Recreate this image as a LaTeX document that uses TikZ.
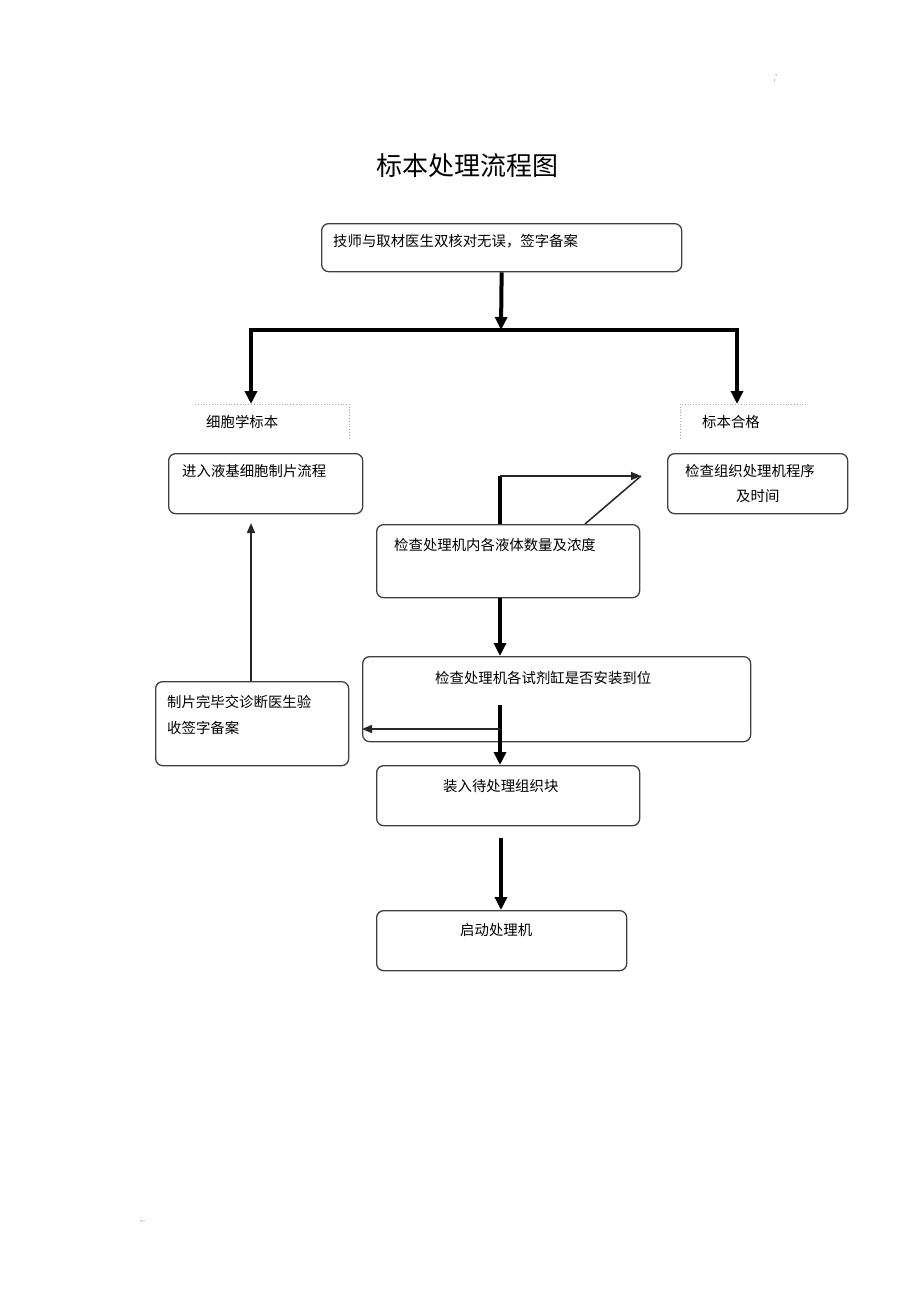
\documentclass[tikz,border=0pt]{standalone}
\usepackage{fontspec}
\setmainfont{Noto Sans CJK SC}
\usetikzlibrary{arrows.meta}
\begin{document}
\begin{tikzpicture}[x=1pt,y=-1pt,
 box/.style={draw=black!75, line width=1.3pt, rounded corners=7pt, anchor=north west, inner sep=0},
 txt/.style={anchor=west, inner sep=0, font=\fontsize{14.4pt}{18pt}\selectfont},
 heavy/.style={line width=4pt, -{Triangle[length=13pt,width=12pt]}},
 heavyline/.style={line width=4pt},
 thinarrow/.style={line width=1.5pt, black!85, -{Triangle[length=10pt,width=8pt]}},
 thinline/.style={line width=1.5pt, black!85},
 dotline/.style={black!35, dotted, line width=0.8pt}]
\useasboundingbox (0,0) rectangle (920,1303);
% title
\node[font=\fontsize{26pt}{30pt}\selectfont, inner sep=0] (title) at (467,166) {标本处理流程图};
\node[font=\fontsize{7pt}{8pt}\selectfont, inner sep=0, text=black!60] (m1) at (778,78) {,'};
\node[font=\fontsize{7pt}{8pt}\selectfont, inner sep=0, text=black!60] (m2) at (143,1220) {;..};
% boxes
\node[box, minimum width=360pt, minimum height=48pt] (b1) at (321,223) {};
\node[box, minimum width=194pt, minimum height=60pt] (cyto) at (168,453) {};
\node[box, minimum width=180pt, minimum height=60pt] (prog) at (667,453) {};
\node[box, minimum width=263pt, minimum height=73pt] (liq) at (376,524) {};
\node[box, minimum width=388pt, minimum height=85pt] (reag) at (362,656) {};
\node[box, minimum width=263pt, minimum height=60pt] (load) at (376,765) {};
\node[box, minimum width=250pt, minimum height=60pt] (start) at (376,910) {};
\node[box, minimum width=193pt, minimum height=84pt] (sign) at (155,681) {};
% texts
\node[txt] (t1) at (333,241) {技师与取材医生双核对无误，签字备案};
\node[txt] (lab1) at (206,422) {细胞学标本};
\node[txt] (lab2) at (702,422) {标本合格};
\node[txt] (tc) at (182,471) {进入液基细胞制片流程};
\node[txt] (tp1) at (685,471) {检查组织处理机程序};
\node[txt] (tp2) at (736,496) {及时间};
\node[txt] (tl) at (394,545) {检查处理机内各液体数量及浓度};
\node[txt] (tr) at (435,678) {检查处理机各试剂缸是否安装到位};
\node[txt] (tld) at (443,786) {装入待处理组织块};
\node[txt] (ts) at (460,930) {启动处理机};
\node[txt] (tsg1) at (167,702) {制片完毕交诊断医生验};
\node[txt] (tsg2) at (167,728) {收签字备案};
% dotted label frames
\draw[dotline] (195,404) -- (349,404) -- (349,440);
\draw[dotline] (806,404) -- (680,404) -- (680,440);
% top branching
\coordinate (j) at (501,330);
\coordinate (jl) at (251,330);
\coordinate (jr) at (737,330);
\coordinate (l1) at (251,404);
\coordinate (l2) at (737,404);
\draw[heavy] (b1.south) -- (j);
\draw[heavyline, line cap=rect] (jl) -- (jr);
\draw[heavy] (jl) -- (l1);
\draw[heavy] (jr) -- (l2);
% loop above liquid box
\coordinate (lp) at (500,476);
\coordinate (lpe) at (641,476);
\coordinate (dg) at (585,524);
\draw[heavyline] (liq.north -| lp) -- (lp);
\draw[thinarrow] (lp) -- (lpe);
\draw[thinline] (dg) -- (lpe);
% liquid -> reagent
\draw[heavy] (liq.south -| lp) -- (reag.north -| lp);
% reagent -> load, with side branch
\coordinate (r1) at (500,705);
\coordinate (r2) at (500,729);
\draw[heavy] (r1) -- (load.north -| r1);
\draw[thinarrow] (r2) -- (reag.west |- r2);
% load -> start
\coordinate (s1) at (501,838);
\draw[heavy] (s1) -- (start.north -| s1);
% sign -> cyto
\coordinate (c1) at (251,523);
\draw[thinarrow] (sign.north -| c1) -- (c1);
\end{tikzpicture}
\end{document}
